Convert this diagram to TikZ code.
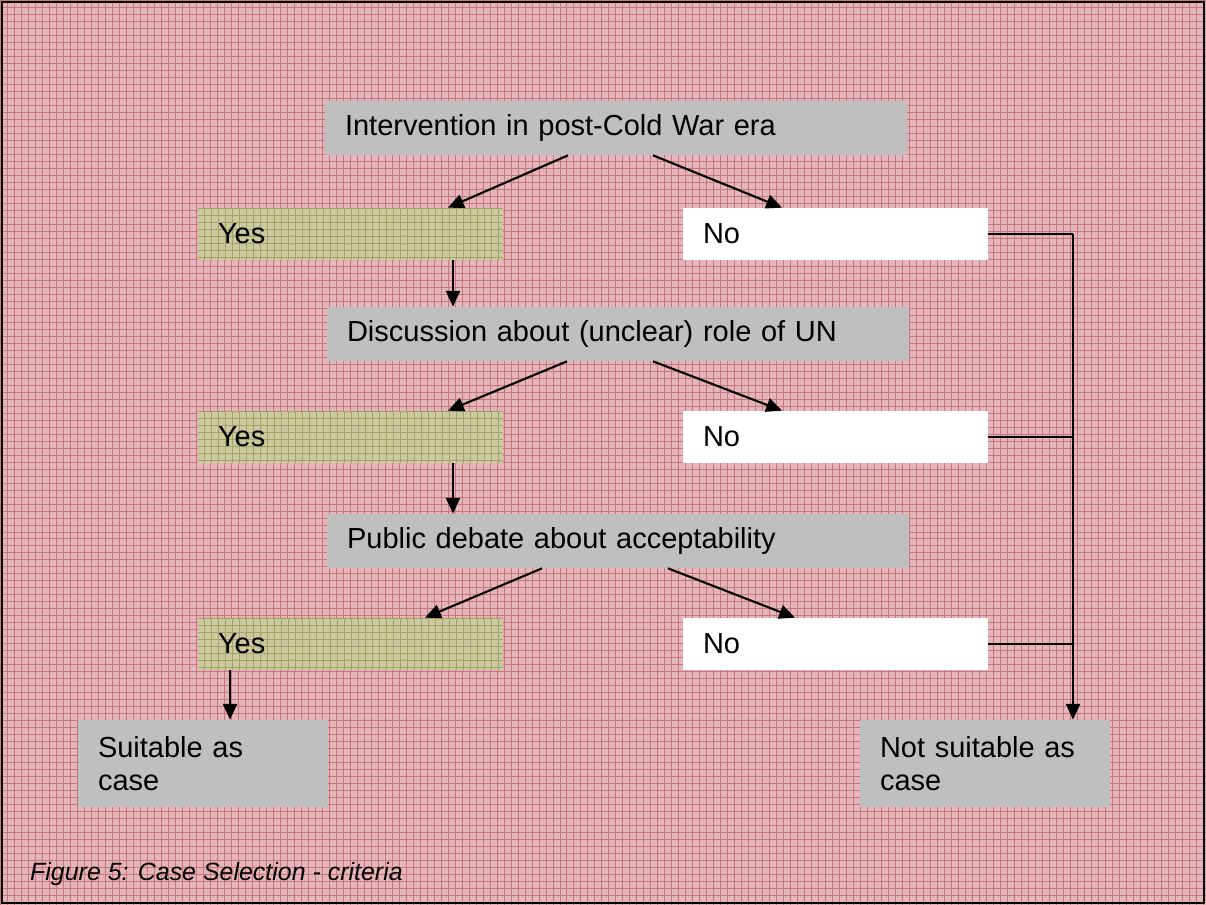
\documentclass[tikz,border=0pt]{standalone}
\usepackage{fontspec}
\setmainfont{Liberation Sans}
\usetikzlibrary{arrows.meta}

\definecolor{pinkbg}{RGB}{228,182,187}
\definecolor{pinkline}{RGB}{200,118,126}
\definecolor{olivebg}{RGB}{204,200,160}
\definecolor{oliveline}{RGB}{160,165,100}
\definecolor{boxgray}{RGB}{191,191,191}

\tikzset{
  box/.style={rectangle, inner xsep=0.4cm, inner ysep=0pt, align=left, font=\fontsize{16.5}{18.7}\selectfont},
  graybox/.style={box, fill=boxgray, text width=10.84cm, minimum height=1.08cm},
  yesbox/.style={box, fill=olivebg, text width=5.3cm, minimum height=1.04cm,
    path picture={\draw[oliveline, line width=0.4pt, step=0.14cm] (path picture bounding box.south west) grid (path picture bounding box.north east);}},
  nobox/.style={box, fill=white, text width=5.3cm, minimum height=1.04cm},
  endbox/.style={box, fill=boxgray, text width=4.2cm, minimum height=1.74cm},
  arr/.style={-{Triangle[length=9pt,width=8pt]}, line width=1.2pt},
}

\begin{document}
\begin{tikzpicture}[x=0.02cm, y=-0.02cm]
\useasboundingbox (0,0) rectangle (1206,905);
%background
\fill[pinkbg] (0,0) rectangle (1206,905);
\draw[pinkline, line width=0.45pt, step=0.14cm] (0,0) grid (1206,905);
\draw[line width=1.4pt] (2,2) rectangle (1204,903);

%questions
\node[graybox] (Q1) at (616,128) {Intervention in post-Cold War era};
\node[graybox] (Q2) at (618,334) {Discussion about (unclear) role of UN};
\node[graybox] (Q3) at (618,541) {Public debate about acceptability};
%answers
\node[yesbox] (Y1) at (350.5,234) {Yes};
\node[nobox] (N1) at (835.5,234) {No};
\node[yesbox] (Y2) at (350.5,437) {Yes};
\node[nobox] (N2) at (835.5,437) {No};
\node[yesbox] (Y3) at (350.5,644) {Yes};
\node[nobox] (N3) at (835.5,644) {No};
%outcome
\node[endbox] (S) at (203,763.5) {Suitable as\\case};
\node[endbox] (NS) at (985,763.5) {Not suitable as\\case};

%arrows
\draw[arr] ([xshift=-0.96cm]Q1.south) -- ([xshift=1.95cm]Y1.north);
\draw[arr] ([xshift=0.74cm]Q1.south) -- ([xshift=-1.07cm]N1.north);
\draw[arr] ([xshift=-1.02cm]Q2.south) -- ([xshift=1.95cm]Y2.north);
\draw[arr] ([xshift=0.7cm]Q2.south) -- ([xshift=-1.07cm]N2.north);
\draw[arr] ([xshift=-1.52cm]Q3.south) -- ([xshift=1.49cm]Y3.north);
\draw[arr] ([xshift=1cm]Q3.south) -- ([xshift=-0.81cm]N3.north);
\draw[arr] ([xshift=2.05cm]Y1.south) -- ([xshift=2.05cm]Y1.south |- Q2.north);
\draw[arr] ([xshift=2.05cm]Y2.south) -- ([xshift=2.05cm]Y2.south |- Q3.north);
\draw[arr] ([xshift=-2.41cm]Y3.south) -- ([xshift=-2.41cm]Y3.south |- S.north);

%no branch
\coordinate (bus) at (1073,234);
\draw[line width=1.2pt] (N1.east) -- (bus);
\draw[line width=1.2pt] (N2.east) -- (N2.east -| bus);
\draw[line width=1.2pt] (N3.east) -- (N3.east -| bus);
\draw[arr] (bus) -- (bus |- NS.north);

%caption
\node[anchor=base west, font=\fontsize{14.2}{17}\selectfont\itshape] (cap) at (24,880) {Figure 5: Case Selection - criteria};
\end{tikzpicture}
\end{document}
